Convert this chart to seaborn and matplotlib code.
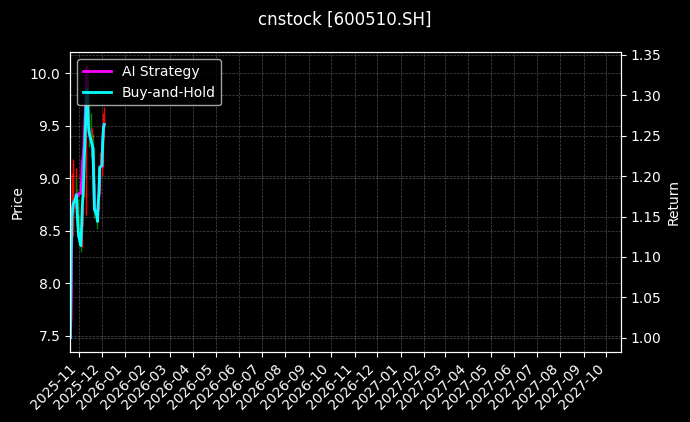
import matplotlib
matplotlib.use("Agg")
import matplotlib.pyplot as plt
import matplotlib.dates as mdates
import numpy as np
import pandas as pd
import seaborn as sns

dates = ["2025-10-20", "2025-10-21", "2025-10-22", "2025-10-23", "2025-10-24",
         "2025-10-27", "2025-10-28", "2025-10-29", "2025-10-30", "2025-10-31",
         "2025-11-03", "2025-11-04", "2025-11-05", "2025-11-06", "2025-11-07",
         "2025-11-10", "2025-11-11", "2025-11-12", "2025-11-13", "2025-11-14",
         "2025-11-17", "2025-11-18", "2025-11-19", "2025-11-20", "2025-11-21",
         "2025-11-24", "2025-11-25", "2025-11-26", "2025-11-27", "2025-11-28",
         "2025-12-01", "2025-12-02", "2025-12-03", "2025-12-04"]
open_ = [7.52, 7.70, 8.40, 8.55, 8.68, 8.72, 8.85, 8.84, 8.72, 8.58,
         8.42, 8.38, 8.55, 8.74, 8.88, 9.10, 9.70, 9.85, 9.72, 9.55,
         9.45, 9.30, 9.35, 9.25, 8.95, 8.72, 8.66, 8.60, 8.78, 8.90,
         9.08, 9.15, 9.38, 9.45]
high = [7.60, 8.23, 9.05, 9.18, 9.15, 9.10, 9.00, 8.90, 8.80, 8.65,
        8.52, 8.62, 8.80, 8.95, 9.20, 9.75, 10.07, 9.95, 9.78, 9.66,
        9.62, 9.48, 9.42, 9.30, 9.02, 8.80, 8.72, 8.82, 8.95, 9.25,
        9.22, 9.45, 9.62, 9.68]
low = [7.48, 7.65, 8.38, 8.45, 8.50, 8.60, 8.62, 8.55, 8.45, 8.38,
       8.30, 8.35, 8.50, 8.66, 8.82, 8.65, 9.55, 9.60, 9.40, 9.30,
       9.20, 9.18, 9.05, 8.90, 8.62, 8.56, 8.52, 8.58, 8.70, 8.85,
       9.02, 9.10, 9.30, 9.40]
close = [7.48, 8.23, 8.62, 8.70, 8.76, 8.80, 8.84, 8.70, 8.55, 8.45,
         8.36, 8.55, 8.75, 8.86, 9.05, 9.68, 9.85, 9.70, 9.50, 9.43,
         9.34, 9.32, 9.28, 9.00, 8.70, 8.65, 8.59, 8.75, 8.86, 9.10,
         9.12, 9.35, 9.48, 9.51]
ai_return = [1.000, 1.029, 1.146, 1.159, 1.166, 1.172, 1.177, 1.174, 1.176, 1.178,
             1.179, 1.195, 1.217, 1.226, 1.237, 1.308, 1.335, 1.295, 1.263, 1.254,
             1.242, 1.239, 1.234, 1.198, 1.159, 1.152, 1.144, 1.165, 1.179, 1.211,
             1.213, 1.243, 1.260, 1.264]
bh_return = [1.000, 1.098, 1.148, 1.159, 1.166, 1.172, 1.177, 1.159, 1.139, 1.126,
             1.114, 1.139, 1.165, 1.179, 1.204, 1.286, 1.308, 1.289, 1.263, 1.254,
             1.242, 1.239, 1.234, 1.198, 1.159, 1.152, 1.144, 1.165, 1.179, 1.211,
             1.213, 1.243, 1.260, 1.264]

df = pd.DataFrame({"date": pd.to_datetime(dates), "open": open_, "high": high,
                   "low": low, "close": close, "ai": ai_return, "bh": bh_return})

plt.style.use("dark_background")
fig, ax = plt.subplots(figsize=(6.9, 4.22), dpi=100)
fig.subplots_adjust(left=0.1019, right=0.8996, top=0.876, bottom=0.1666)

up = df["close"] >= df["open"]
colors = np.where(up, "red", "green")
ax.vlines(df["date"], df["low"], df["high"], colors=colors, linewidth=1)
ax.bar(df["date"], (df["close"] - df["open"]).abs(),
       bottom=np.minimum(df["open"], df["close"]), width=0.6,
       color=colors, edgecolor=colors, linewidth=0.5)

ax2 = ax.twinx()
sns.lineplot(data=df, x="date", y="ai", ax=ax2, color="magenta", linewidth=2,
             label="AI Strategy")
sns.lineplot(data=df, x="date", y="bh", ax=ax2, color="cyan", linewidth=2,
             label="Buy-and-Hold")

ax.set_xlim(pd.Timestamp("2025-10-20"), pd.Timestamp("2027-10-20"))
ax.set_ylim(7.35, 10.20)
ax2.set_ylim(0.9827, 1.3533)

ax.xaxis.set_major_locator(mdates.MonthLocator())
ax.xaxis.set_major_formatter(mdates.DateFormatter("%Y-%m"))
for lbl in ax.get_xticklabels():
    lbl.set_rotation(45)
    lbl.set_ha("right")

ax.set_xlabel("")
ax2.set_xlabel("")
ax.set_ylabel("Price")
ax2.set_ylabel("Return")

ax.grid(True, linestyle="--", linewidth=0.5, alpha=0.3)
ax2.grid(True, linestyle="--", linewidth=0.5, alpha=0.3)

ax2.legend(loc="upper left")
fig.suptitle("cnstock [600510.SH]", fontsize=12, y=0.975)

fig.savefig("out.png", dpi=100)
